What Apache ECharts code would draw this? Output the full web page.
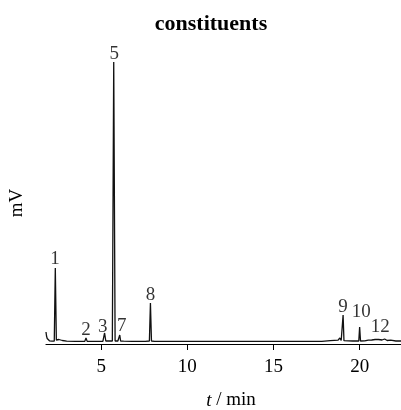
<!DOCTYPE html>
<html>
<head>
<meta charset="utf-8">
<script src="https://cdn.jsdelivr.net/npm/echarts@6/dist/echarts.min.js"></script>
<style>
  html, body { margin: 0; padding: 0; background: #fff; }
  #chart { width: 401px; height: 410px; }
</style>
</head>
<body>
<div id="chart"></div>
<script>
// chromatogram trace (time in min, signal in mV, arbitrary)
const traceTime = [1.8, 1.83, 1.87, 1.92, 2.0, 2.15, 2.28, 2.34, 2.4, 2.55, 2.62, 2.75, 3.0, 3.5,
  4.05, 4.12, 4.19, 4.6, 5.1, 5.2, 5.27, 5.35, 5.42, 5.5, 5.65, 5.73, 5.81, 5.9, 5.97, 6.03,
  6.08, 6.13, 6.3, 6.8, 7.4, 7.48, 7.56, 7.8, 7.86, 7.92, 8.1, 8.6, 9.35, 9.45, 9.55, 9.9,
  9.97, 10.04, 10.55, 10.62, 10.69, 11.05, 11.12, 11.19, 12.5, 14.25, 14.35, 14.45, 16.0,
  17.8, 18.3, 18.75, 18.85, 18.93, 18.99, 19.04, 19.09, 19.2, 19.6, 19.95, 20.0, 20.05,
  20.3, 20.4, 20.5, 20.6, 20.7, 20.8, 20.9, 21.0, 21.1, 21.2, 21.3, 21.45, 21.6, 21.8, 22.1, 22.4];
const traceSignal = [12, 8, 5.5, 4, 3.2, 2.8, 3, 76, 4, 4.5, 5, 3.5, 2.8, 2.6,
  2.6, 6, 2.6, 2.6, 2.7, 11, 3, 5, 3, 2.8, 3, 282, 3, 5, 3, 3,
  9, 3, 2.8, 2.6, 2.6, 3.5, 2.7, 3, 41, 3, 2.7, 2.6, 2.6, 4, 2.6, 2.6,
  4.5, 2.6, 2.6, 4, 2.6, 2.6, 4, 2.6, 2.6, 2.6, 4.5, 2.6, 2.6,
  2.7, 3.3, 3.8, 6, 3.5, 3.5, 29, 3.3, 3, 3, 3, 17, 3,
  3.2, 5, 3.8, 5.5, 4, 6, 4.5, 6.5, 4.5, 6, 4, 5, 3.5, 3.8, 3, 3];

// peak numbers and where their labels sit
const peakNames = ['1', '2', '3', '5', '7', '8', '9', '10', '12'];
const peakLabelTime = [2.32, 4.12, 5.1, 5.76, 6.2, 7.86, 19.04, 20.1, 21.2];
const peakLabelSignal = [75, 4, 7, 280, 8, 39, 27, 22, 7];

const xTicks = [5, 10, 15, 20];

const serif = 'Liberation Serif';

const chart = echarts.init(document.getElementById('chart'));

const traceData = traceTime.map((t, i) => [t, traceSignal[i]]);
const labelData = peakNames.map((n, i) => ({ value: [peakLabelTime[i], peakLabelSignal[i]], name: n }));

chart.setOption({
  animation: false,
  backgroundColor: '#fff',
  title: {
    text: 'constituents',
    left: 206,
    top: 8,
    textAlign: 'center',
    textStyle: { fontFamily: serif, fontWeight: 'bold', fontSize: 22, color: '#000' }
  },
  grid: { left: 46, right: 0, top: 62, bottom: 66, containLabel: false, outerBoundsMode: 'none' },
  xAxis: {
    type: 'value',
    min: 1.8,
    max: 22.4,
    name: '{i|t} / min',
    nameLocation: 'middle',
    nameGap: 47,
    nameTextStyle: {
      fontFamily: serif, fontSize: 19, color: '#000',
      padding: [0, 0, 0, 15],
      rich: { i: { fontFamily: serif, fontSize: 19, fontStyle: 'italic', color: '#000' } }
    },
    axisLine: { lineStyle: { color: '#000', width: 1.2 } },
    axisTick: { customValues: xTicks, length: 6, lineStyle: { color: '#000', width: 1 } },
    axisLabel: { customValues: xTicks, margin: 14, fontFamily: serif, fontSize: 19, color: '#000' },
    splitLine: { show: false }
  },
  yAxis: {
    type: 'value',
    min: 0,
    max: 282,
    name: 'mV',
    nameLocation: 'middle',
    nameGap: 19,
    nameTextStyle: { fontFamily: serif, fontSize: 19, color: '#000' },
    axisLine: { show: false },
    axisTick: { show: false },
    axisLabel: { show: false },
    splitLine: { show: false }
  },
  series: [
    {
      type: 'line',
      data: traceData,
      showSymbol: false,
      symbol: 'none',
      lineStyle: { color: '#111', width: 1.3 },
      clip: false
    },
    {
      type: 'scatter',
      data: labelData,
      symbolSize: 0,
      clip: false,
      label: {
        show: true,
        position: 'top',
        distance: 0,
        formatter: p => p.name,
        fontFamily: serif,
        fontSize: 19,
        color: '#000'
      }
    }
  ]
});
</script>
</body>
</html>
